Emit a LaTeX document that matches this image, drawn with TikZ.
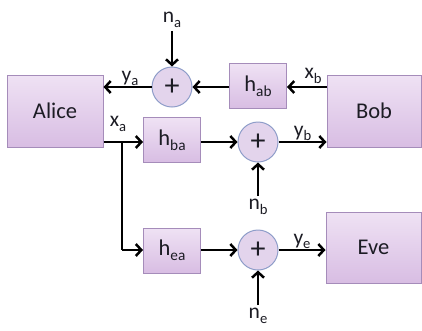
\documentclass[tikz,border=0pt]{standalone}
\usepackage{fontspec}
\setmainfont{Carlito}
\usetikzlibrary{arrows.meta}
\definecolor{boxtop}{HTML}{EFE2F4}
\definecolor{boxbot}{HTML}{D8BDE3}
\definecolor{boxborder}{HTML}{A58CBA}
\definecolor{sumfill}{HTML}{E3D4EC}
\definecolor{sumborder}{HTML}{8E9DC9}
\definecolor{txt}{HTML}{1C1C24}
\newcommand{\sbx}[2]{#1\raisebox{-0.45ex}{\scalebox{0.68}{#2}}}
\begin{document}
\begin{tikzpicture}[x=1pt,y=-1pt,
  party/.style={draw=boxborder, line width=1pt, top color=boxtop, bottom color=boxbot, inner sep=0pt, font=\fontsize{22.5}{24}\selectfont, text=txt},
  chan/.style={party, minimum width=57pt, minimum height=45pt},
  sumnode/.style={circle, draw=sumborder, line width=1pt, fill=sumfill, minimum size=40pt, inner sep=0pt, font=\fontsize{30}{30}\selectfont, text=txt},
  lab/.style={font=\fontsize{21.5}{23}\selectfont, text=txt, inner sep=1pt},
  sig/.style={line width=2.5pt, -{Straight Barb[length=5.5pt,width=12pt]}},
  wire/.style={line width=2.5pt}
]
\useasboundingbox (0,0) rectangle (422,330);
\fill[white] (0,0) rectangle (422,330);
% parties
\node[party, minimum width=96pt, minimum height=72pt] (alice) at (55,111) {Alice};
\node[party, minimum width=94pt, minimum height=72pt] (bob) at (374,111) {Bob};
\node[party, minimum width=95pt, minimum height=71pt] (eve) at (373.5,247.5) {Eve};
% channels
\node[chan] (hab) at (258,86) {\sbx{h}{ab}};
\node[chan] (hba) at (172,140) {\sbx{h}{ba}};
\node[chan] (hea) at (172,250.5) {\sbx{h}{ea}};
% sums
\node[sumnode] (sa) at (172,87) {\raisebox{0.5pt}{+}};
\node[sumnode] (sb) at (258,142) {\raisebox{0.5pt}{+}};
\node[sumnode] (se) at (258,250) {\raisebox{0.5pt}{+}};
% noise labels
\node[lab] (na) at (172,20) {\sbx{n}{a}};
\node[lab] (nb) at (258,207) {\sbx{n}{b}};
\node[lab] (ne) at (258,316) {\sbx{n}{e}};
% junction
\coordinate (j) at (122,142);
\coordinate (jd) at (122,250);
% top row
\draw[sig] (bob.west |- sa) -- (hab.east |- sa);
\draw[sig] (hab.west |- sa) -- (sa.east);
\draw[sig] (sa.west) -- (alice.east |- sa) node[lab, pos=0.45, above=-1pt] (ya) {\sbx{y}{a}};
\node[lab] (xb) at (313,76) {\sbx{x}{b}};
\draw[sig] (na.south) ++(0,2) -- (sa.north);
% middle row
\draw[sig] (alice.east |- sb) -- (hba.west |- sb);
\node[lab] (xa) at (118,124) {\sbx{x}{a}};
\draw[sig] (hba.east |- sb) -- (sb.west);
\draw[sig] (sb.east) -- (bob.west |- sb) node[lab, midway, above=-1pt] (yb) {\sbx{y}{b}};
\draw[sig] (nb.north) ++(0,-2) -- (sb.south);
% bottom row
\draw[wire] (j) -- (jd);
\draw[sig] (jd) -- (hea.west |- se);
\draw[sig] (hea.east |- se) -- (se.west);
\draw[sig] (se.east) -- (eve.west |- se) node[lab, midway, above=-1pt] (ye) {\sbx{y}{e}};
\draw[sig] (ne.north) ++(0,-2) -- (se.south);
\end{tikzpicture}
\end{document}
